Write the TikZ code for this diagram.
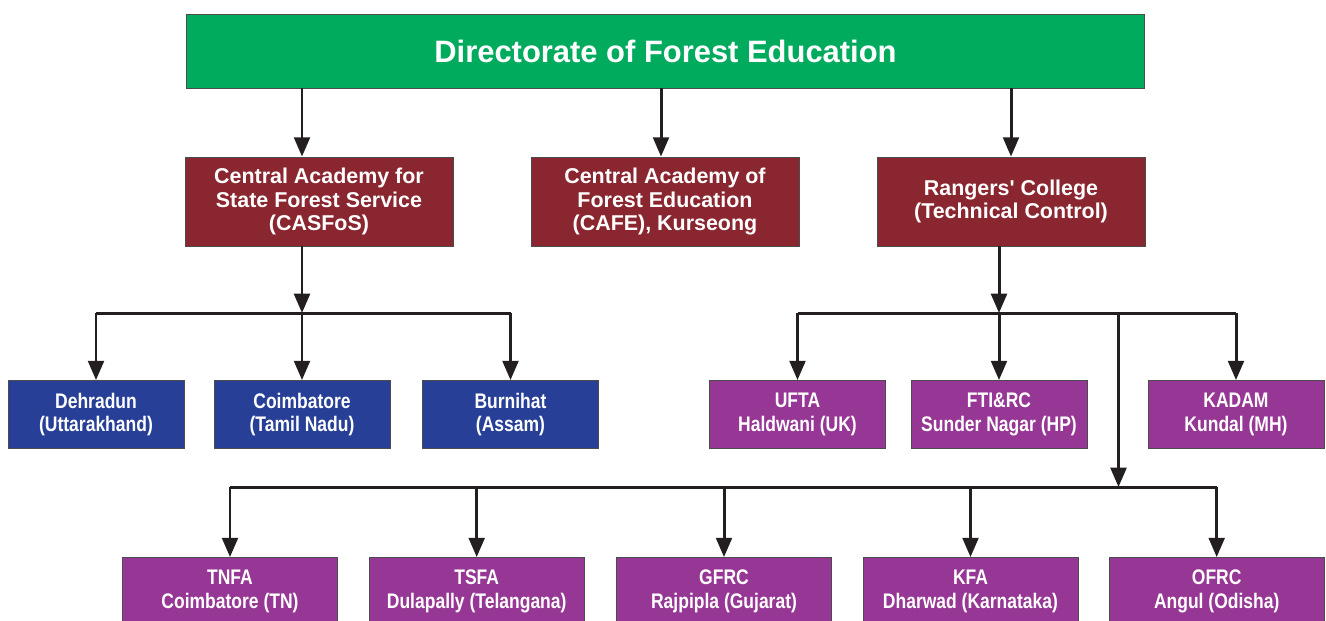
\documentclass[tikz,border=0pt]{standalone}
\usepackage{fontspec}
\setmainfont{Liberation Sans}
\newfontfamily\narrowsans[FakeStretch=0.83]{Liberation Sans}
\usetikzlibrary{arrows.meta, positioning}

\definecolor{dirgreen}{HTML}{00AB5E}
\definecolor{acadred}{HTML}{8A2630}
\definecolor{campblue}{HTML}{283F97}
\definecolor{collpurple}{HTML}{973795}
\definecolor{linegray}{HTML}{231F20}

\begin{document}
\begin{tikzpicture}[x=0.02cm, y=-0.02cm,
  box/.style={draw=black!70, line width=0.5pt, text=white, align=center, inner sep=0pt},
  headbox/.style={box, fill=dirgreen, minimum width=19.18cm, minimum height=1.48cm,
    font=\bfseries\fontsize{17.6}{20}\selectfont},
  acadbox/.style={box, fill=acadred, minimum width=5.36cm, minimum height=1.78cm,
    font=\bfseries\fontsize{12.2}{13.6}\selectfont},
  campbox/.style={box, fill=campblue, minimum width=3.52cm, minimum height=1.36cm,
    font=\narrowsans\bfseries\fontsize{12}{13.6}\selectfont},
  collbox/.style={box, fill=collpurple, minimum width=3.52cm, minimum height=1.36cm,
    font=\narrowsans\bfseries\fontsize{12}{13.6}\selectfont},
  lowbox/.style={collbox, minimum width=4.3cm},
  link/.style={draw=linegray, line width=1.7pt},
  arr/.style={link, -{Triangle[width=9pt,length=11pt]}}]

  \useasboundingbox (0,0) rectangle (1326,620);
  \clip (0,0) rectangle (1326,620);

  % head
  \node (dfe) [headbox] at (665.5,51) {Directorate of Forest Education};

  % academies
  \node (casfos) [acadbox] at (319,201.5) {Central Academy for\\State Forest Service\\(CASFoS)};
  \node (cafe) [acadbox] at (665,201.5) {Central Academy of\\Forest Education\\(CAFE), Kurseong};
  \node (rc) [acadbox] at (1011,201.5) {Rangers\textquotesingle{} College\\(Technical Control)};

  % CASFoS campuses
  \node (ddn) [campbox] at (96,414.5) {Dehradun\\(Uttarakhand)};
  \node (cbe) [campbox] at (302,414.5) {Coimbatore\\(Tamil Nadu)};
  \node (brn) [campbox] at (510.5,414.5) {Burnihat\\(Assam)};

  % rangers colleges
  \node (ufta) [collbox] at (797.5,414.5) {UFTA\\Haldwani (UK)};
  \node (fti) [collbox] at (999,414.5) {FTI\&RC\\Sunder Nagar (HP)};
  \node (kadam) [collbox] at (1236,414.5) {KADAM\\Kundal (MH)};

  \node (tnfa) [lowbox] at (230,591.5) {TNFA\\Coimbatore (TN)};
  \node (tsfa) [lowbox] at (476.7,591.5) {TSFA\\Dulapally (Telangana)};
  \node (gfrc) [lowbox] at (724,591.5) {GFRC\\Rajpipla (Gujarat)};
  \node (kfa) [lowbox] at (970.5,591.5) {KFA\\Dharwad (Karnataka)};
  \node (ofrc) [lowbox] at (1216.7,591.5) {OFRC\\Angul (Odisha)};

  % junctions
  \coordinate (casj) at (302,313);
  \coordinate (rcj) at (999,313);
  \coordinate (rcb) at (1118.5,313);
  \coordinate (lowj) at (1118.5,487);

  % head to academies
  \draw[arr] ([xshift=-0.34cm]casfos.north |- dfe.south) -- ([xshift=-0.34cm]casfos.north);
  \draw[arr] ([xshift=-0.08cm]cafe.north |- dfe.south) -- ([xshift=-0.08cm]cafe.north);
  \draw[arr] (rc.north |- dfe.south) -- (rc.north);

  % CASFoS branch
  \draw[arr] (casj |- casfos.south) -- (casj);
  \draw[link] (ddn.north |- casj) -- (brn.north |- casj);
  \foreach \n in {ddn,cbe,brn}
    \draw[arr] (\n.north |- casj) -- (\n.north);

  % rangers branch
  \draw[arr] (rcj |- rc.south) -- (rcj);
  \draw[link] (ufta.north |- rcj) -- (kadam.north |- rcj);
  \foreach \n in {ufta,fti,kadam}
    \draw[arr] (\n.north |- rcj) -- (\n.north);
  \draw[arr] (rcb) -- (lowj);
  \draw[link] (tnfa.north |- lowj) -- (ofrc.north |- lowj);
  \foreach \n in {tnfa,tsfa,gfrc,kfa,ofrc}
    \draw[arr] (\n.north |- lowj) -- (\n.north);

\end{tikzpicture}
\end{document}
